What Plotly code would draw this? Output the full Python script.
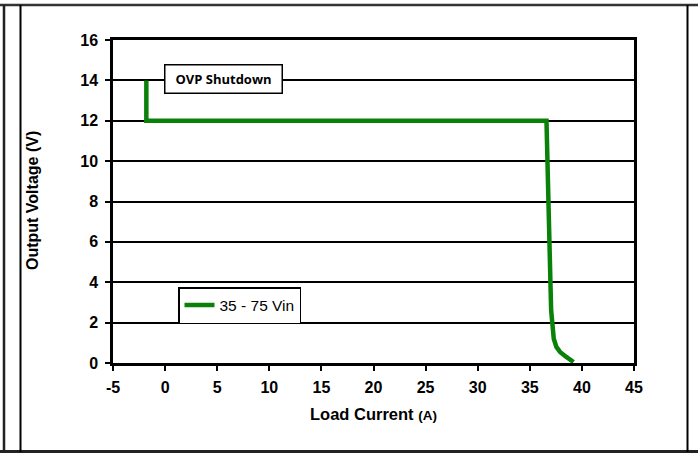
import plotly.graph_objects as go

load_current = [-1.8, -1.8, 36.6, 36.72, 36.82, 36.9, 36.98, 37.05, 37.15, 37.3, 37.55, 37.9, 38.5, 39.2]
output_voltage = [14.0, 12.0, 12.0, 10.0, 8.0, 6.0, 4.0, 2.6, 1.8, 1.2, 0.8, 0.55, 0.3, 0.05]
series_name = "35 - 75 Vin"
x_ticks = [-5, 0, 5, 10, 15, 20, 25, 30, 35, 40, 45]
y_ticks = [0, 2, 4, 6, 8, 10, 12, 14, 16]

W, H = 698, 454
L, R, T, B = 113, 64, 40, 91
pw, ph = W - L - R, H - T - B

def px(x):
    return (x - L) / pw

def py(y):
    return (H - B - y) / ph

fig = go.Figure()
fig.add_trace(go.Scatter(
    x=load_current, y=output_voltage, mode="lines", name=series_name,
    line=dict(color="#0a820a", width=4.5),
))

bold = dict(family="Liberation Sans, Arial", size=16, color="black", weight="bold")

fig.update_layout(
    width=W, height=H,
    margin=dict(l=L, r=R, t=T, b=B),
    paper_bgcolor="white", plot_bgcolor="white",
    showlegend=True,
    legend=dict(
        x=px(178), y=py(287), xanchor="left", yanchor="top",
        bordercolor="black", borderwidth=1.5, bgcolor="white",
        font=dict(family="Liberation Sans, Arial", size=15.5, color="black"),
        itemwidth=30, tracegroupgap=0,
    ),
    xaxis=dict(
        range=[-5, 45], tickvals=x_ticks, ticktext=[str(v) for v in x_ticks],
        showgrid=False, zeroline=False, showline=True, linecolor="black", linewidth=2.5,
        mirror=True, ticks="outside", ticklen=5, tickwidth=1.5, tickcolor="black",
        tickfont=bold, ticklabelstandoff=3,
    ),
    yaxis=dict(
        range=[0, 16], tickvals=y_ticks, ticktext=[str(v) for v in y_ticks],
        showgrid=True, gridcolor="black", gridwidth=2,
        zeroline=False, showline=True, linecolor="black", linewidth=2.5,
        mirror=True, ticks="outside", ticklen=5, tickwidth=1.5, tickcolor="black",
        tickfont=bold, ticklabelstandoff=4,
    ),
    annotations=[
        dict(x=5.6, y=14.08, xref="x", yref="y", text="<b>OVP Shutdown</b>", showarrow=False,
             font=dict(family="Open Sans, Liberation Sans", size=13, color="black"),
             bgcolor="white", bordercolor="black", borderwidth=1.5, borderpad=3,
             width=110, height=21),
        dict(x=0.5, y=py(414), xref="paper", yref="paper",
             text="<b>Load Current <span style='font-size:13.5px'>(A)</span></b>",
             showarrow=False, font=dict(family="Liberation Sans, Arial", size=16.5, color="black"),
             xanchor="center", yanchor="middle"),
        dict(x=px(32), y=py(201), xref="paper", yref="paper",
             text="<b>Output Voltage (V)</b>", textangle=-90,
             showarrow=False, font=dict(family="Liberation Sans, Arial", size=16, color="black"),
             xanchor="center", yanchor="middle"),
    ],
    shapes=[
        dict(type="line", xref="paper", yref="paper", x0=px(0), x1=px(698), y0=py(5), y1=py(5),
             line=dict(color="#333", width=2.5)),
        dict(type="line", xref="paper", yref="paper", x0=px(0), x1=px(698), y0=py(451.5), y1=py(451.5),
             line=dict(color="#222", width=3)),
        dict(type="line", xref="paper", yref="paper", x0=px(4), x1=px(4), y0=py(5), y1=py(452),
             line=dict(color="#222", width=2.5)),
        dict(type="line", xref="paper", yref="paper", x0=px(20.5), x1=px(20.5), y0=py(5), y1=py(452),
             line=dict(color="black", width=2)),
        dict(type="line", xref="paper", yref="paper", x0=px(687.5), x1=px(687.5), y0=py(5), y1=py(452),
             line=dict(color="black", width=2)),
    ],
)

fig.write_html("out.html", config={"displayModeBar": False},
               post_script="document.body.style.margin='0';document.body.style.overflow='hidden';")
